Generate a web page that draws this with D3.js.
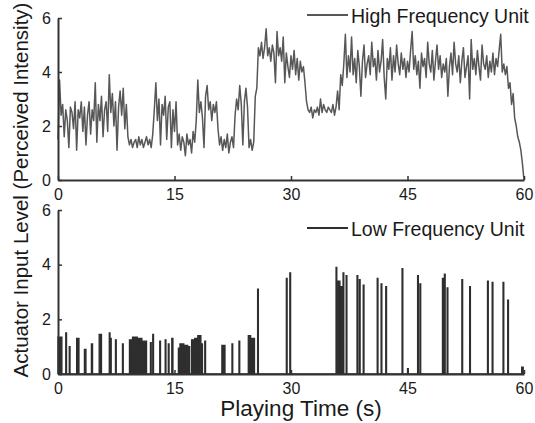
<!DOCTYPE html>
<html>
<head>
<meta charset="utf-8">
<script src="https://cdn.jsdelivr.net/npm/d3@7/dist/d3.min.js"></script>
<style>
  html, body { margin: 0; padding: 0; background: #fff; }
  svg { display: block; }
  text { font-family: "Liberation Sans", Arial, sans-serif; fill: #1a1a1a; }
</style>
</head>
<body>
<svg id="chart" width="535" height="423"></svg>
<script>
// ---------------- DATA ----------------
const xTicks = [0, 15, 30, 45, 60];
const yTicks = [0, 2, 4, 6];
const xLabel = "Playing Time (s)";
const yLabel = "Actuator Input Level (Perceived Intensity)";
const hfName = "High Frequency Unit";
const lfName = "Low Frequency Unit";

// High frequency unit: sampled every 0.2 s from 0 to 60 s
const hfStep = 0.2;
const hfValues = [
  // 0 - 4.8
  1.5, 3.7, 2.4, 2.8, 1.6, 2.6, 2.2, 1.2, 2.7, 2.5, 1.9, 2.9, 1.1, 2.6, 2.3, 2.9, 1.8, 2.7, 1.3, 2.4, 2.9, 1.7, 2.6, 2.2, 3.6,
  // 5 - 9.8
  1.4, 2.8, 2.2, 3.1, 1.6, 2.6, 2.9, 1.8, 3.9, 2.5, 3.2, 2.0, 2.9, 1.1, 2.7, 3.3, 2.4, 3.4, 1.9, 2.8, 1.6, 1.3, 1.5, 1.2, 1.4,
  // 10 - 14.8
  1.5, 1.2, 1.6, 1.3, 1.5, 1.2, 1.4, 1.6, 1.3, 1.5, 1.2, 1.7, 2.6, 3.6, 2.2, 3.0, 1.3, 2.8, 2.4, 3.1, 1.5, 2.7, 2.9, 1.2, 2.6,
  // 15 - 19.8
  1.8, 2.9, 1.3, 1.7, 1.1, 1.6, 1.4, 0.9, 1.7, 1.3, 1.5, 1.0, 1.8, 1.4, 2.2, 3.7, 2.5, 2.9, 2.3, 1.2, 3.1, 3.5, 2.6, 2.9, 2.2,
  // 20 - 24.8
  2.8, 2.5, 2.9, 1.9, 1.3, 1.6, 1.1, 1.5, 1.2, 1.7, 1.0, 1.4, 1.6, 1.2, 2.4, 3.0, 2.6, 3.5, 2.8, 1.3, 2.9, 3.4, 2.7, 1.2, 1.5,
  // 25 - 29.8
  1.1, 1.4, 3.1, 3.4, 4.9, 4.6, 5.1, 4.5, 4.9, 5.6, 4.6, 4.9, 4.4, 5.0, 4.7, 3.6, 5.5, 4.6, 4.9, 4.4, 5.3, 3.6, 4.7, 4.2, 3.8,
  // 30 - 34.8
  4.6, 4.1, 4.8, 3.9, 4.5, 3.7, 4.4, 4.0, 4.2, 3.6, 2.9, 2.6, 2.5, 2.7, 2.3, 2.6, 2.5, 2.7, 2.4, 3.0, 2.5, 2.8, 2.6, 2.5, 2.7,
  // 35 - 39.8
  2.6, 2.5, 2.8, 2.4, 2.7, 3.3, 2.6, 3.9, 3.5, 4.3, 5.4, 3.8, 4.6, 4.0, 5.3, 3.9, 4.5, 3.6, 4.8, 4.2, 3.1, 4.4, 5.0, 3.8, 4.3,
  // 40 - 44.8
  4.6, 3.9, 5.1, 4.2, 4.5, 3.7, 4.8, 4.0, 4.4, 5.2, 3.8, 3.0, 4.5, 4.1, 4.9, 3.7, 4.6, 4.0, 5.0, 4.3, 3.9, 4.7, 4.1, 4.5, 3.8,
  // 45 - 49.8
  4.4, 4.0, 4.8, 5.5, 4.1, 4.6, 3.9, 4.4, 3.4, 4.7, 4.2, 4.5, 3.8, 5.1, 4.3, 4.0, 4.8, 3.7, 4.4, 5.0, 4.1, 4.6, 3.8, 4.3, 4.0,
  // 50 - 54.8
  4.5, 3.1, 4.2, 4.7, 3.9, 5.1, 4.3, 4.0, 4.6, 3.6, 4.4, 4.9, 3.8, 4.2, 4.6, 3.0, 5.2, 4.1, 4.5, 3.9, 4.8, 4.2, 3.7, 5.0, 4.3,
  // 55 - 60
  4.1, 4.6, 3.8, 4.4, 4.0, 4.7, 3.9, 4.5, 4.2, 4.8, 5.4, 4.0, 4.3, 3.9, 4.2, 3.4, 3.6, 2.8, 3.2, 2.3, 2.0, 1.6, 1.4, 1.1, 0.6, 0.0
];

// Low frequency unit: pulses [start (s), end (s), level]
const lfPulses = [
  [0.0, 0.5, 1.35], [1.0, 1.1, 1.5], [1.45, 1.55, 1.0], [2.4, 2.7, 1.3], [3.4, 3.6, 0.9],
  [4.3, 4.45, 1.1], [5.3, 5.6, 1.45], [6.6, 6.7, 1.5], [6.75, 6.85, 1.3], [7.4, 7.5, 1.25],
  [8.3, 8.4, 1.1], [9.2, 9.6, 1.25], [9.6, 10.2, 1.35], [10.2, 10.8, 1.3], [10.8, 11.4, 1.2],
  [11.9, 12.0, 1.15], [12.2, 12.3, 1.45], [13.1, 13.2, 1.2], [13.8, 13.9, 1.25], [14.2, 14.3, 1.1],
  [14.65, 14.8, 1.3], [15.5, 15.7, 0.95], [15.7, 16.2, 1.1], [16.2, 16.7, 1.05], [16.85, 16.95, 1.0],
  [17.2, 17.6, 1.25], [17.6, 18.0, 1.3], [18.0, 18.4, 1.4], [18.5, 18.6, 1.1], [18.9, 19.0, 1.2],
  [21.1, 21.5, 1.05], [22.4, 22.5, 1.1], [23.3, 23.4, 1.2], [24.5, 24.8, 1.4], [24.8, 25.3, 1.3],
  [25.7, 25.8, 3.1], [29.4, 29.5, 3.5], [29.85, 29.95, 3.7], [35.8, 35.9, 3.9], [35.95, 36.3, 3.4],
  [36.3, 36.6, 3.2], [36.7, 36.8, 3.7], [37.1, 37.2, 3.6], [38.5, 38.6, 3.6], [38.8, 38.9, 3.45],
  [39.3, 39.4, 3.25], [41.1, 41.2, 3.5], [41.6, 41.7, 3.3], [42.2, 42.3, 3.2], [44.3, 44.4, 3.85],
  [45.0, 45.1, 0.2], [46.3, 46.4, 3.6], [46.6, 46.7, 3.3], [49.5, 49.65, 3.5], [49.75, 49.85, 3.65],
  [50.1, 50.2, 3.15], [52.0, 52.1, 3.45], [53.0, 53.1, 3.2], [55.3, 55.4, 3.4], [55.9, 56.0, 3.35],
  [57.3, 57.4, 3.35], [57.9, 58.0, 2.7], [59.7, 59.9, 0.25]
];

// ---------------- CHART ----------------
const svg = d3.select("#chart");
const axisColor = "#333";
const fontFam = '"Liberation Sans", Arial, sans-serif';

const x = d3.scaleLinear().domain([0, 60]).range([58, 524]);
const yTop = d3.scaleLinear().domain([0, 6]).range([180, 18]);
const yBot = d3.scaleLinear().domain([0, 6]).range([374, 210]);

function drawAxes(y) {
  const gx = svg.append("g")
    .attr("transform", `translate(0,${y(0)})`)
    .call(d3.axisBottom(x).tickValues(xTicks).tickFormat(d3.format("d"))
      .tickSizeInner(-4).tickSizeOuter(0).tickPadding(9));
  const gy = svg.append("g")
    .attr("transform", `translate(${x(0)},0)`)
    .call(d3.axisLeft(y).tickValues(yTicks).tickFormat(d3.format("d"))
      .tickSizeInner(-4).tickSizeOuter(0).tickPadding(7));
  [gx, gy].forEach(g => {
    g.select(".domain").attr("stroke", axisColor).attr("stroke-width", 2);
    g.selectAll(".tick line").attr("stroke", axisColor).attr("stroke-width", 1.5);
    g.selectAll(".tick text").style("font-family", fontFam)
      .style("font-size", "16px").attr("fill", "#1a1a1a");
  });
}

// Top: high frequency unit line
const hfData = hfValues.map((v, i) => [i * hfStep, v]);
svg.append("path")
  .datum(hfData)
  .attr("fill", "none")
  .attr("stroke", "#575757")
  .attr("stroke-width", 1.5)
  .attr("stroke-linejoin", "round")
  .attr("d", d3.line().x(d => x(d[0])).y(d => yTop(d[1])));

// Bottom: low frequency unit pulses
const lfData = [[0, 0]];
lfPulses.forEach(([t0, t1, v]) => {
  lfData.push([t0, 0], [t0, v], [t1, v], [t1, 0]);
});
lfData.push([60, 0]);
svg.append("path")
  .datum(lfData)
  .attr("fill", "#2e2e2e")
  .attr("stroke", "#2e2e2e")
  .attr("stroke-width", 1.3)
  .attr("d", d3.line().x(d => x(d[0])).y(d => yBot(d[1])));

drawAxes(yTop);
drawAxes(yBot);

// Legends
function legend(yPos, name, color, w) {
  svg.append("line").attr("x1", 307).attr("x2", 348).attr("y1", yPos).attr("y2", yPos)
    .attr("stroke", color).attr("stroke-width", w);
  svg.append("text").attr("x", 351).attr("y", yPos + 7.5)
    .style("font-size", "19.5px").text(name);
}
legend(15, hfName, "#575757", 1.8);
legend(228, lfName, "#2e2e2e", 2.2);

// Axis titles
svg.append("text")
  .attr("x", 301).attr("y", 416)
  .attr("text-anchor", "middle")
  .style("font-size", "22.5px")
  .text(xLabel);

svg.append("text")
  .attr("transform", "translate(28,190) rotate(-90)")
  .attr("text-anchor", "middle")
  .style("font-size", "20.5px")
  .text(yLabel);
</script>
</body>
</html>
